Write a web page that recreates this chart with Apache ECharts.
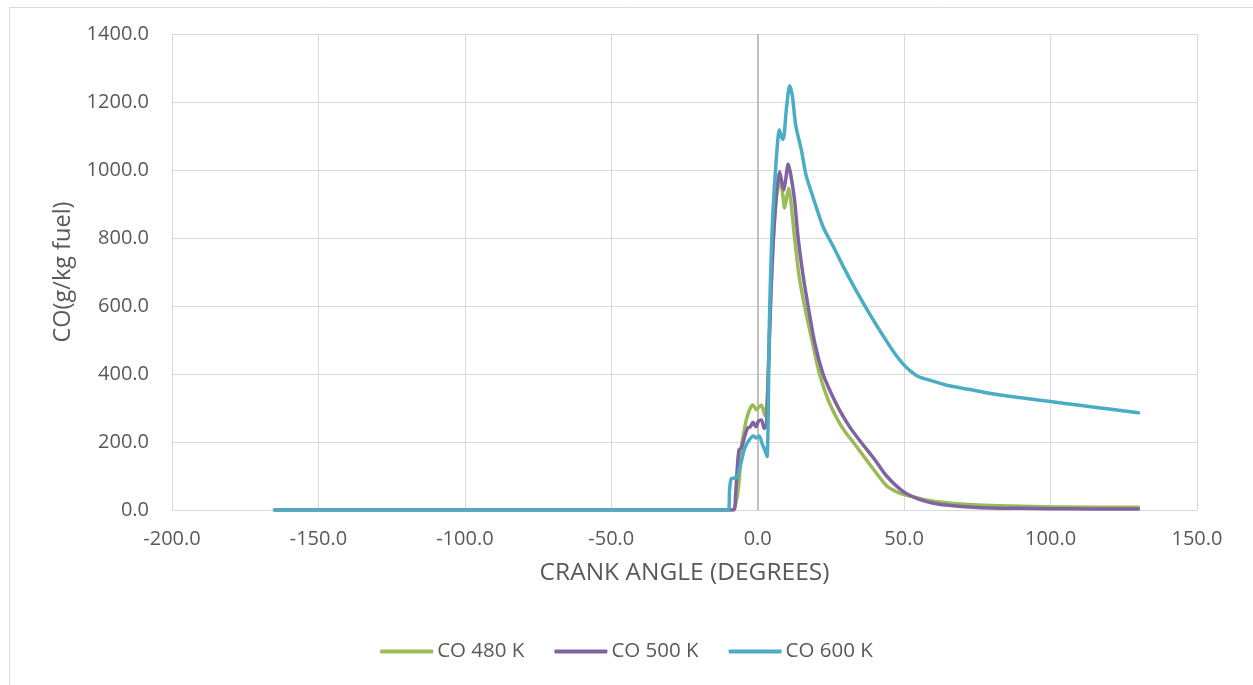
<!DOCTYPE html>
<html>
<head>
<meta charset="utf-8">
<script src="https://cdn.jsdelivr.net/npm/echarts@6/dist/echarts.min.js"></script>
<style>
html,body{margin:0;padding:0;background:#fff;}
#chart{width:1253px;height:685px;}
</style>
</head>
<body>
<div id="chart"></div>
<script>
// Crank angle (deg) and CO (g/kg fuel) for each intake temperature
const angle480 = [-165, -9.0, -8.0, -7.0, -6.3, -5.6, -4.8, -3.9, -3.0, -2.2, -1.6, -0.5, 0.4, 1.3, 2.4, 3.2, 4.2, 5.2, 6.2, 7.0, 7.8, 8.5, 9.2, 9.9, 10.6, 11.3, 12.6, 14.1, 16.0, 18.5, 21.1, 24.0, 27.5, 30.0, 33.0, 38.2, 43.9, 47.0, 49.6, 55.3, 60, 66, 75, 90, 105, 130];
const co480    = [0, 0, 5, 40, 90, 186, 225, 265, 290, 305, 309, 295, 302, 309, 278, 320, 560, 780, 900, 950, 966, 930, 888, 920, 946, 910, 800, 690, 600, 500, 400, 325, 262, 228, 195, 135, 72, 55, 46, 34, 26, 20, 15, 11, 9, 8];

const angle500 = [-165, -8.2, -7.6, -7.0, -6.4, -5.6, -4.5, -3.5, -2.5, -1.6, -0.6, 0.3, 1.3, 2.2, 3.0, 3.6, 4.5, 5.5, 6.5, 7.5, 8.2, 8.9, 9.6, 10.4, 11.2, 12.6, 13.8, 15.5, 17.2, 19.5, 22.3, 25, 28, 31.5, 35.5, 40, 44, 49.6, 55, 60, 66, 72, 80, 90, 100, 115, 130];
const co500    = [0, 0, 40, 120, 176, 182, 215, 240, 245, 258, 245, 262, 265, 240, 250, 400, 640, 820, 940, 995, 965, 941, 975, 1018, 990, 910, 800, 690, 600, 490, 400, 345, 293, 243, 197, 148, 100, 55, 32, 20, 13, 9, 6, 5, 4, 3, 3];

const angle600 = [-165, -10, -9.6, -9.0, -7.2, -6.5, -4.5, -3.0, -1.5, -0.5, 0.5, 1.5, 2.5, 3.2, 4.0, 4.8, 6.0, 7.4, 8.0, 8.7, 9.8, 10.9, 11.8, 13.0, 14.9, 16.5, 18.5, 22.3, 26, 29.1, 33, 38.2, 43, 47, 49.6, 52, 55, 58.7, 65, 72, 80, 90, 100, 110, 120, 130];
const co600    = [0, 0, 60, 92, 95, 110, 180, 205, 218, 212, 218, 195, 175, 157, 560, 800, 990, 1118, 1100, 1090, 1180, 1248, 1220, 1130, 1059, 985, 930, 833, 772, 718, 655, 577, 510, 458, 430, 410, 392, 382, 366, 355, 342, 330, 319, 308, 297, 286];

const seriesNames = ['CO 480 K', 'CO 500 K', 'CO 600 K'];
const xTitle = 'CRANK ANGLE (DEGREES)';
const yTitle = 'CO(g/kg fuel)';

const pairs = (xs, ys) => xs.map((x, i) => [x, ys[i]]);
const colors = ['#9BBB59', '#8064A2', '#4BACC6'];
const txt = '#595959';
const font = '"Open Sans", sans-serif';

const chart = echarts.init(document.getElementById('chart'), null, {renderer: 'canvas'});
const mk = (name, data, color, extra) => Object.assign({
  name, type: 'line', data, showSymbol: false, symbol: 'none',
  smooth: 0.25,
  lineStyle: {color, width: 3.5, cap: 'round', join: 'round'},
  itemStyle: {color}
}, extra || {});

chart.setOption({
  animation: false,
  backgroundColor: '#fff',
  graphic: [{
    type: 'rect', left: 7, top: 5, shape: {width: 1400, height: 900},
    style: {fill: 'none', stroke: '#d9d9d9', lineWidth: 1}, silent: true
  }],
  grid: {left: 172, right: 56, top: 34, bottom: 175},
  legend: {
    bottom: 18, left: 'center', itemWidth: 53, itemHeight: 4, itemGap: 30,
    icon: 'roundRect',
    textStyle: {color: txt, fontSize: 20.5, fontFamily: font, padding: [0, 0, 0, -1]},
    data: seriesNames
  },
  xAxis: {
    type: 'value', min: -200, max: 150, interval: 50,
    name: xTitle, nameLocation: 'middle', nameGap: 51,
    nameTextStyle: {color: txt, fontSize: 24.5, fontFamily: font},
    axisLine: {show: true, onZero: false, lineStyle: {color: '#d9d9d9', width: 1}},
    axisTick: {show: false},
    axisLabel: {color: txt, fontSize: 20, fontFamily: font, margin: 19, formatter: v => v.toFixed(1)},
    splitLine: {show: true, lineStyle: {color: '#d9d9d9', width: 1}}
  },
  yAxis: {
    type: 'value', min: 0, max: 1400, interval: 200,
    name: yTitle, nameLocation: 'middle', nameGap: 95, nameRotate: 90,
    nameTextStyle: {color: txt, fontSize: 23.5, fontFamily: font},
    axisLine: {show: false},
    axisTick: {show: false},
    axisLabel: {color: txt, fontSize: 20, fontFamily: font, margin: 23, formatter: v => v.toFixed(1)},
    splitLine: {show: true, lineStyle: {color: '#d9d9d9', width: 1}}
  },
  series: [
    mk(seriesNames[0], pairs(angle480, co480), colors[0], {
      markLine: {
        silent: true, symbol: 'none', label: {show: false},
        lineStyle: {color: '#bfbfbf', width: 2, type: 'solid'},
        data: [{xAxis: 0}], z: 1
      }
    }),
    mk(seriesNames[1], pairs(angle500, co500), colors[1]),
    mk(seriesNames[2], pairs(angle600, co600), colors[2])
  ]
});
</script>
</body>
</html>
